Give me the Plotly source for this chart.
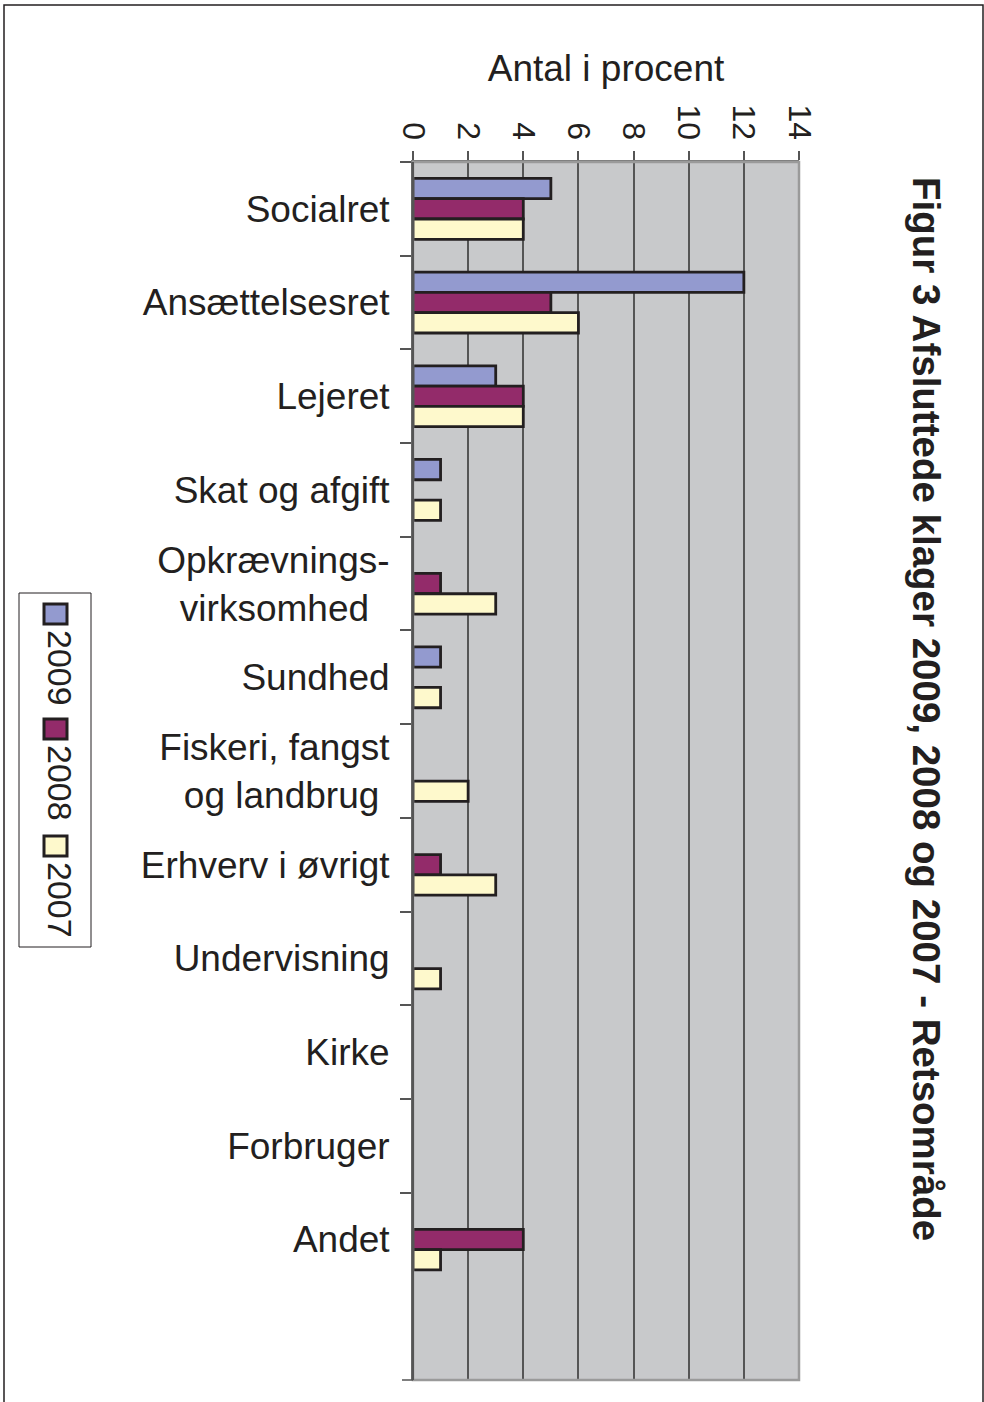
import plotly.graph_objects as go

categories = ["Socialret", "Ansættelsesret", "Lejeret", "Skat og afgift",
              "Opkrævnings-<br>virksomhed\u00a0\u00a0", "Sundhed",
              "Fiskeri, fangst<br>og landbrug\u00a0", "Erhverv i øvrigt", "Undervisning",
              "Kirke", "Forbruger", "Andet"]
years = ["2009", "2008", "2007"]
v2009 = [5, 12, 3, 1, 0, 1, 0, 0, 0, 0, 0, 0]
v2008 = [4, 5, 4, 0, 1, 0, 0, 1, 0, 0, 0, 4]
v2007 = [4, 6, 4, 1, 3, 1, 2, 3, 1, 0, 0, 1]
x_ticks = [0, 2, 4, 6, 8, 10, 12, 14]
colors = ["#939ACF", "#932B6A", "#FEF9CC"]

W, H = 984, 1402
L, R, T, B = 413, 799, 162, 1380
FONT = "Liberation Sans, Arial, Helvetica, sans-serif"


def px(x):
    return (x - L) / (R - L)


def py(y):
    return (B - y) / (B - T)


fig = go.Figure()
for name, vals, col in zip(years, [v2009, v2008, v2007], colors):
    fig.add_trace(go.Bar(
        y=categories, x=[v if v else None for v in vals], name=name,
        orientation="h", marker=dict(color=col, line=dict(color="#231F20", width=2.8)),
    ))

fig.update_layout(
    width=W, height=H,
    margin=dict(l=L, r=W - R, t=T, b=H - B, pad=0),
    paper_bgcolor="white", plot_bgcolor="#C8C9CB",
    barmode="group", bargap=0.35, bargroupgap=0,
    showlegend=False,
    font=dict(family=FONT, color="#231F20"),
)
fig.update_xaxes(
    side="top", range=[0, 14], tickvals=x_ticks, ticktext=[str(t) for t in x_ticks],
    tickangle=90, tickfont=dict(size=32, family=FONT, color="#231F20"),
    ticks="outside", ticklen=9, tickcolor="#555555", tickwidth=1.5,
    showgrid=True, gridcolor="#555555", gridwidth=1.5,
    showline=True, linecolor="#777777", linewidth=1.5,
    zeroline=False,
    title=dict(text="Antal i procent", font=dict(size=37, family=FONT, color="#231F20"), standoff=12),
)
fig.update_yaxes(
    type="category", range=[12.5, -0.5],
    tickson="boundaries", ticks="outside", ticklen=11, tickcolor="#555555", tickwidth=1.5,
    tickfont=dict(size=37, family=FONT, color="#231F20"), ticklabelstandoff=14,
    showline=True, linecolor="#555555", linewidth=2, showgrid=False, zeroline=False,
    automargin=False,
)

shapes = []
# plot area border (right / bottom)
shapes.append(dict(type="rect", xref="paper", yref="paper", x0=0, x1=1, y0=0, y1=1,
                   line=dict(color="#9A9A9A", width=2.5), layer="above"))
# left axis line on top of border
shapes.append(dict(type="line", xref="paper", yref="paper", x0=0, x1=0, y0=0, y1=1,
                   line=dict(color="#555555", width=2), layer="above"))
# bottom tick
shapes.append(dict(type="line", xref="paper", yref="paper", x0=px(402), x1=0, y0=0, y1=0,
                   line=dict(color="#555555", width=1.5)))
# outer frame
shapes.append(dict(type="rect", xref="paper", yref="paper", x0=px(4), x1=px(983), y0=py(1420), y1=py(5),
                   line=dict(color="#231F20", width=1.5)))
# legend box
shapes.append(dict(type="rect", xref="paper", yref="paper", x0=px(19), x1=px(91), y0=py(947), y1=py(593),
                   line=dict(color="#231F20", width=1), fillcolor="white"))

annotations = []
legend_sq_y = [604, 719, 836]
for yr, col, y0 in zip(years, colors, legend_sq_y):
    shapes.append(dict(type="rect", xref="paper", yref="paper", x0=px(44), x1=px(67),
                       y0=py(y0 + 20), y1=py(y0), line=dict(color="#231F20", width=3), fillcolor=col))
    annotations.append(dict(text=yr, xref="paper", yref="paper", x=px(60), y=py(y0 + 64),
                            showarrow=False, textangle=90, xanchor="center", yanchor="middle",
                            font=dict(size=34, family=FONT, color="#231F20")))

annotations.append(dict(text="<b>Figur 3 Afsluttede klager 2009, 2008 og 2007 - Retsområde</b>",
                        xref="paper", yref="paper", x=px(926), y=py(709), showarrow=False,
                        textangle=90, xanchor="center", yanchor="middle",
                        font=dict(size=38.5, family=FONT, color="#231F20")))

fig.update_layout(shapes=shapes, annotations=annotations)
fig.write_html("out.html", config={"displayModeBar": False},
               post_script="document.body.style.margin='0';document.body.style.overflow='hidden';")
